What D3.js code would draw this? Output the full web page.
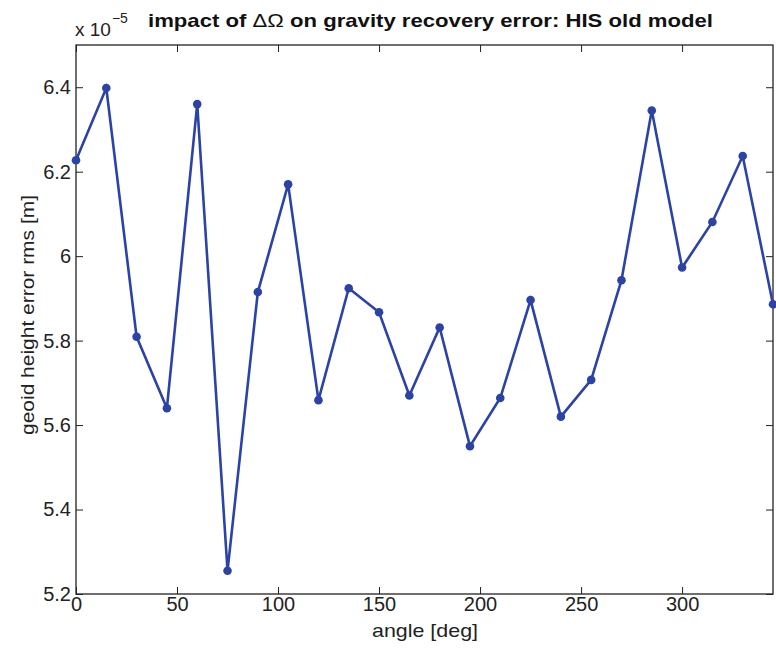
<!DOCTYPE html>
<html>
<head>
<meta charset="utf-8">
<script src="https://cdn.jsdelivr.net/npm/d3@7/dist/d3.min.js"></script>
<style>
  html, body { margin: 0; padding: 0; background: #fff; }
  svg { display: block; font-family: "Liberation Sans", Arial, Helvetica, sans-serif; }
</style>
</head>
<body>
<svg id="chart" width="776" height="649"></svg>
<script>
// Orbit node offset angle (deg) and resulting geoid height error rms (x 1e-5 m)
const angles = [0, 15, 30, 45, 60, 75, 90, 105, 120, 135, 150, 165,
                180, 195, 210, 225, 240, 255, 270, 285, 300, 315, 330, 345];
const rmsError = [6.227, 6.398, 5.809, 5.640, 6.360, 5.255, 5.915, 6.170,
                  5.659, 5.924, 5.867, 5.670, 5.831, 5.550, 5.664, 5.896,
                  5.620, 5.707, 5.943, 6.345, 5.973, 6.081, 6.237, 5.886];
const xTicks = [0, 50, 100, 150, 200, 250, 300];
const yTicks = [5.2, 5.4, 5.6, 5.8, 6.0, 6.2, 6.4];
const yTickLabels = ["5.2", "5.4", "5.6", "5.8", "6", "6.2", "6.4"];

const svg = d3.select("#chart");
const W = 776, H = 649;
const margin = { top: 45, right: 3, bottom: 55, left: 76 };
const iw = W - margin.left - margin.right;
const ih = H - margin.top - margin.bottom;

const x = d3.scaleLinear().domain([0, 345]).range([0, iw]);
const y = d3.scaleLinear().domain([5.2, 6.5]).range([ih, 0]);

const g = svg.append("g").attr("transform", `translate(${margin.left},${margin.top})`);
const lineColor = "#2c43a6";
const textColor = "#222";
const tickLen = 7;
const fontSize = 20;

// axes box
g.append("rect").attr("x", 0).attr("y", 0).attr("width", iw).attr("height", ih)
  .attr("fill", "none").attr("stroke", textColor).attr("stroke-width", 1.3);

// bottom / top axes with inward ticks, left / right likewise
const xb = g.append("g").attr("transform", `translate(0,${ih})`)
  .call(d3.axisBottom(x).tickValues(xTicks).tickSizeInner(-tickLen).tickSizeOuter(0).tickPadding(3));
const xt = g.append("g")
  .call(d3.axisTop(x).tickValues(xTicks).tickSizeInner(-tickLen).tickSizeOuter(0).tickFormat(""));
const yl = g.append("g")
  .call(d3.axisLeft(y).tickValues(yTicks).tickSizeInner(-tickLen).tickSizeOuter(0)
    .tickPadding(5).tickFormat((d, i) => yTickLabels[i]));
const yr = g.append("g").attr("transform", `translate(${iw},0)`)
  .call(d3.axisRight(y).tickValues(yTicks).tickSizeInner(-tickLen).tickSizeOuter(0).tickFormat(""));

[xb, xt, yl, yr].forEach(a => {
  a.select(".domain").remove();
  a.selectAll(".tick line").attr("stroke", textColor).attr("stroke-width", 1);
  a.selectAll(".tick text").attr("fill", textColor).style("font-size", fontSize + "px")
    .style("font-family", '"Liberation Sans", Arial, sans-serif');
});
xb.selectAll(".tick text").attr("dy", "0.71em");

// data line and markers
const line = d3.line().x((d, i) => x(angles[i])).y(d => y(d));
g.append("path").datum(rmsError).attr("d", line)
  .attr("fill", "none").attr("stroke", lineColor).attr("stroke-width", 2.6)
  .attr("stroke-linejoin", "miter");
g.selectAll("circle.pt").data(rmsError).enter().append("circle")
  .attr("class", "pt")
  .attr("cx", (d, i) => x(angles[i])).attr("cy", d => y(d)).attr("r", 4.3)
  .attr("fill", lineColor);

// axis labels
svg.append("text").attr("x", 372).attr("y", 637)
  .attr("textLength", 106).attr("lengthAdjust", "spacingAndGlyphs")
  .style("font-size", "19px").attr("fill", textColor)
  .text("angle [deg]");
svg.append("text").attr("transform", `translate(34,435) rotate(-90)`)
  .attr("textLength", 240).attr("lengthAdjust", "spacingAndGlyphs")
  .style("font-size", "19px").attr("fill", textColor)
  .text("geoid height error rms [m]");

// exponent multiplier
const ex = svg.append("text").attr("x", 75).attr("y", 36).style("font-size", "19px").attr("fill", textColor);
ex.append("tspan").text("x 10");
ex.append("tspan").attr("dx", 1).attr("dy", -13).style("font-size", "14px").text("\u22125");

// title
const title = svg.append("text").attr("x", 148).attr("y", 27)
  .attr("textLength", 565).attr("lengthAdjust", "spacingAndGlyphs")
  .style("font-size", "19px").style("font-weight", "bold").attr("fill", "#111");
title.append("tspan").text("impact of ");
title.append("tspan").style("font-weight", "normal").text("\u0394\u03A9");
title.append("tspan").text(" on gravity recovery error: HIS old model");
</script>
</body>
</html>
